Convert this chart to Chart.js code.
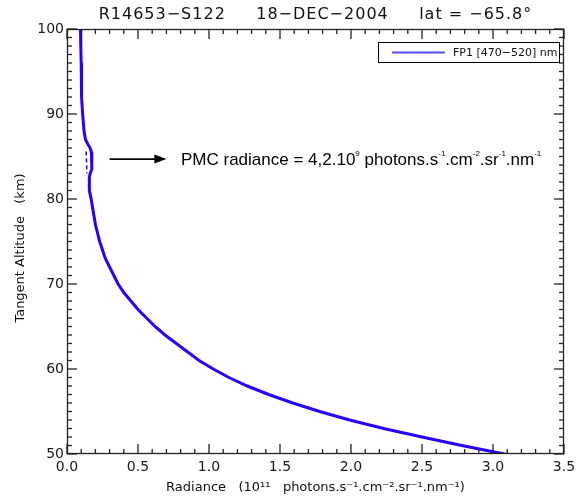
<!DOCTYPE html>
<html>
<head>
<meta charset="utf-8">
<script src="https://cdn.jsdelivr.net/npm/chart.js@4"></script>
<style>
  html, body { margin: 0; padding: 0; background: #fff; }
  #wrap { width: 576px; height: 501px; }
</style>
</head>
<body>
<div id="wrap"><canvas id="c" width="576" height="501"></canvas></div>
<script>
// profile: altitude (km) vs radiance (1e11 units)
const altitude = [100, 98, 96, 94, 92, 90, 88, 87, 86.5, 86, 85.5, 85, 84, 83.5, 83, 82.5, 82, 81, 80, 79, 78, 77, 76, 75, 74, 73, 72, 71, 70, 69, 68, 67, 66, 65, 64, 63, 62, 61, 60, 59, 58, 57, 56, 55, 54, 53, 52, 51, 50, 49.9];
const radiance = [0.095, 0.097, 0.10, 0.10, 0.105, 0.11, 0.12, 0.13, 0.145, 0.163, 0.172, 0.176, 0.176, 0.172, 0.163, 0.157, 0.155, 0.16, 0.17, 0.18, 0.19, 0.20, 0.215, 0.23, 0.25, 0.27, 0.30, 0.33, 0.36, 0.40, 0.45, 0.50, 0.56, 0.62, 0.69, 0.77, 0.85, 0.93, 1.03, 1.14, 1.27, 1.42, 1.59, 1.78, 1.99, 2.23, 2.50, 2.78, 3.08, 3.12];
// short dashed background trace under the PMC bump
const bgAltitude = [85.6, 83.0];
const bgRadiance = [0.135, 0.14];

const xTicks = [0.0, 0.5, 1.0, 1.5, 2.0, 2.5, 3.0, 3.5];
const yTicks = [50, 60, 70, 80, 90, 100];

const titleText = 'R14653\u2212S122     18\u2212DEC\u22122004     lat = \u221265.8\u00b0';
const legendText = 'FP1 [470\u2212520] nm';
const xTitle = 'Radiance   (10\u00b9\u00b9   photons.s\u207b\u00b9.cm\u207b\u00b2.sr\u207b\u00b9.nm\u207b\u00b9)';
const yTitle = 'Tangent Altitude   (km)';
const arrowAlt = 84.7, arrowFrom = 0.30, arrowTo = 0.70;

const BLUE = '#2400ff';
const IDLFONT = '"DejaVu Sans", sans-serif';

function seg(ctx, x0, y0, x1, y1) {
  ctx.beginPath();
  ctx.moveTo(x0, y0);
  ctx.lineTo(x1, y1);
  ctx.stroke();
}

const decor = {
  id: 'decor',
  afterDraw(chart) {
    const ctx = chart.ctx, a = chart.chartArea;
    const xs = chart.scales.x, ys = chart.scales.y;
    ctx.save();
    ctx.setLineDash([]);
    ctx.strokeStyle = '#222';
    ctx.lineWidth = 1.3;
    // frame
    ctx.strokeRect(a.left + 0.5, a.top + 0.5, a.right - a.left - 1, a.bottom - a.top - 1);
    // inward ticks on all four sides
    for (let i = 0; i <= 35; i++) {
      const px = xs.getPixelForValue(i / 10);
      const len = i % 5 === 0 ? 10 : 5;
      seg(ctx, px, a.bottom, px, a.bottom - len);
      seg(ctx, px, a.top, px, a.top + len);
    }
    for (let v = 50; v <= 100; v++) {
      const py = ys.getPixelForValue(v);
      const len = v % 10 === 0 ? 10 : 5;
      seg(ctx, a.left, py, a.left + len, py);
      seg(ctx, a.right, py, a.right - len, py);
    }

    // tick labels
    ctx.fillStyle = '#1a1a1a';
    ctx.font = '14px ' + IDLFONT;
    ctx.textBaseline = 'middle';
    ctx.textAlign = 'center';
    xTicks.forEach(v => ctx.fillText(v.toFixed(1), xs.getPixelForValue(v), 467));
    ctx.textAlign = 'right';
    yTicks.forEach(v => ctx.fillText(String(v), a.left - 3, ys.getPixelForValue(v)));

    // title
    ctx.fillStyle = '#111';
    ctx.font = '16px ' + IDLFONT;
    ctx.letterSpacing = '1px';
    ctx.textAlign = 'center';
    ctx.fillText(titleText, (a.left + a.right) / 2, 15);
    ctx.letterSpacing = '0px';

    // axis titles
    ctx.font = '13px ' + IDLFONT;
    ctx.fillText(xTitle, (a.left + a.right) / 2, 488);
    ctx.save();
    ctx.translate(21, 248);
    ctx.rotate(-Math.PI / 2);
    ctx.fillText(yTitle, 0, 0);
    ctx.restore();

    // legend box
    const lx = 378, ly = 42, lw = 181, lh = 20;
    ctx.fillStyle = '#fff';
    ctx.fillRect(lx, ly, lw, lh);
    ctx.strokeStyle = '#000';
    ctx.lineWidth = 1;
    ctx.strokeRect(lx + 0.5, ly + 0.5, lw, lh);
    ctx.strokeStyle = '#5a4dff';
    ctx.lineWidth = 2;
    seg(ctx, lx + 14, ly + 10.5, lx + 67, ly + 10.5);
    ctx.fillStyle = '#111';
    ctx.font = '11px ' + IDLFONT;
    ctx.textAlign = 'left';
    ctx.fillText(legendText, lx + 75, ly + 11);

    // PMC annotation arrow
    const ay = ys.getPixelForValue(arrowAlt);
    const ax0 = xs.getPixelForValue(arrowFrom), ax1 = xs.getPixelForValue(arrowTo);
    ctx.strokeStyle = '#000';
    ctx.lineWidth = 1.8;
    seg(ctx, ax0, ay, ax1 - 6, ay);
    ctx.fillStyle = '#000';
    ctx.beginPath();
    ctx.moveTo(ax1, ay); ctx.lineTo(ax1 - 12, ay - 4.5); ctx.lineTo(ax1 - 12, ay + 4.5);
    ctx.closePath(); ctx.fill();

    // PMC text with superscripts
    const parts = [
      ['PMC radiance = 4,2.10', 0], ['9', 1], [' photons.s', 0], ['-1', 1],
      ['.cm', 0], ['-2', 1], ['.sr', 0], ['-1', 1], ['.nm', 0], ['-1', 1]
    ];
    let tx = 181;
    for (const [s, sup] of parts) {
      ctx.font = sup ? '8px "Liberation Sans", Arial, sans-serif' : '17px "Liberation Sans", Arial, sans-serif';
      ctx.fillText(s, tx, sup ? ay - 5 : ay + 1);
      tx += ctx.measureText(s).width;
    }
    ctx.restore();
  }
};

new Chart(document.getElementById('c'), {
  type: 'scatter',
  data: {
    datasets: [
      {
        label: legendText,
        data: altitude.map((h, i) => ({ x: radiance[i], y: h })),
        showLine: true,
        borderColor: BLUE,
        borderWidth: 3,
        pointRadius: 0,
        tension: 0
      },
      {
        label: 'background',
        data: bgAltitude.map((h, i) => ({ x: bgRadiance[i], y: h })),
        showLine: true,
        borderColor: BLUE,
        borderWidth: 1.5,
        borderDash: [4, 3],
        pointRadius: 0
      }
    ]
  },
  options: {
    responsive: false,
    animation: false,
    events: [],
    layout: { padding: { top: 29, right: 12, left: 0, bottom: 0 } },
    plugins: { legend: { display: false }, tooltip: { enabled: false } },
    scales: {
      x: {
        type: 'linear', min: 0, max: 3.5,
        afterBuildTicks: s => { s.ticks = xTicks.map(v => ({ value: v })); },
        afterFit: s => { s.height = 47; },
        grid: { display: false },
        border: { display: false },
        ticks: { display: false }
      },
      y: {
        type: 'linear', min: 50, max: 100,
        afterBuildTicks: s => { s.ticks = yTicks.map(v => ({ value: v })); },
        afterFit: s => { s.width = 67; },
        grid: { display: false },
        border: { display: false },
        ticks: { display: false }
      }
    }
  },
  plugins: [decor]
});
</script>
</body>
</html>
